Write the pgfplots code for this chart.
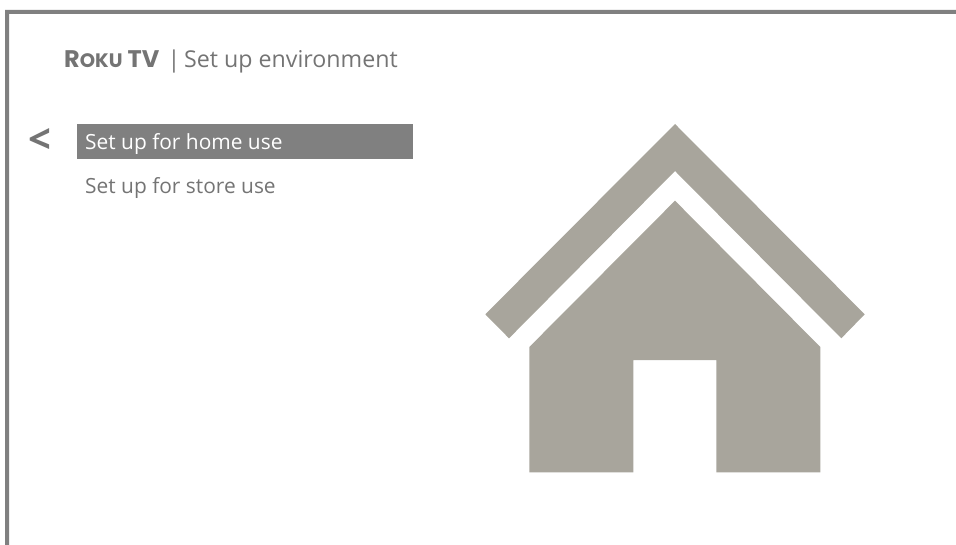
\documentclass[border=0pt]{standalone}
\usepackage{fontspec}
\setmainfont{Open Sans}
\newfontfamily\logofont{Poppins}
\usepackage{pgfplots}
\pgfplotsset{compat=1.18}
\definecolor{frame}{HTML}{808080}
\definecolor{house}{HTML}{A8A59C}
\definecolor{label}{HTML}{747474}
\begin{document}
\begin{tikzpicture}
\useasboundingbox (0,0) rectangle (956pt,545pt);
\begin{axis}[
    at={(0,0)}, anchor=south west,
    scale only axis,
    width=956pt, height=545pt,
    xmin=0, xmax=956, ymin=0, ymax=545,
    y dir=reverse,
    hide axis,
]
% window frame, top and left edge
\addplot[draw=none, fill=frame] coordinates {
    (5,545) (5,10) (956,10) (956,14) (9,14) (9,545)
} -- cycle;
% highlighted row
\addplot[draw=none, fill=frame] coordinates {
    (77,124.3) (413,124.3) (413,159) (77,159)
} -- cycle;
% roof
\addplot[draw=none, fill=house] coordinates {
    (675,124) (864.7,314.3) (841.3,338.3) (675,171) (509,338.3) (485.3,314.3)
} -- cycle;
% house body with the door cut out
\addplot[draw=none, fill=house] coordinates {
    (675,200.7) (820.3,347) (820.3,472.3) (716.3,472.3) (716.3,360)
    (633.3,360) (633.3,472.3) (529.3,472.3) (529.3,347)
} -- cycle;
\node[anchor=base west, inner sep=0pt, text=label] at (axis cs:64,68) {%
    {\logofont\bfseries\fontsize{24}{28}\selectfont R{\fontsize{19.5}{23}\selectfont OKU} TV}};
\node[anchor=base west, inner sep=0pt, text=label, font=\fontsize{23.2}{28}\selectfont] at (axis cs:167.5,68) {|};
\node[anchor=base west, inner sep=0pt, text=label, font=\fontsize{23.2}{28}\selectfont] at (axis cs:184,68) {Set up environment};
\node[anchor=center, inner sep=0pt, text=label, font=\bfseries\fontsize{40}{44}\selectfont] at (axis cs:39.5,141) {<};
\node[anchor=base west, inner sep=0pt, text=white, font=\fontsize{20.9}{25}\selectfont] at (axis cs:85,149.5) {Set up for home use};
\node[anchor=base west, inner sep=0pt, text=label, font=\fontsize{20.9}{25}\selectfont] at (axis cs:85,193.5) {Set up for store use};
\end{axis}
\end{tikzpicture}
\end{document}
